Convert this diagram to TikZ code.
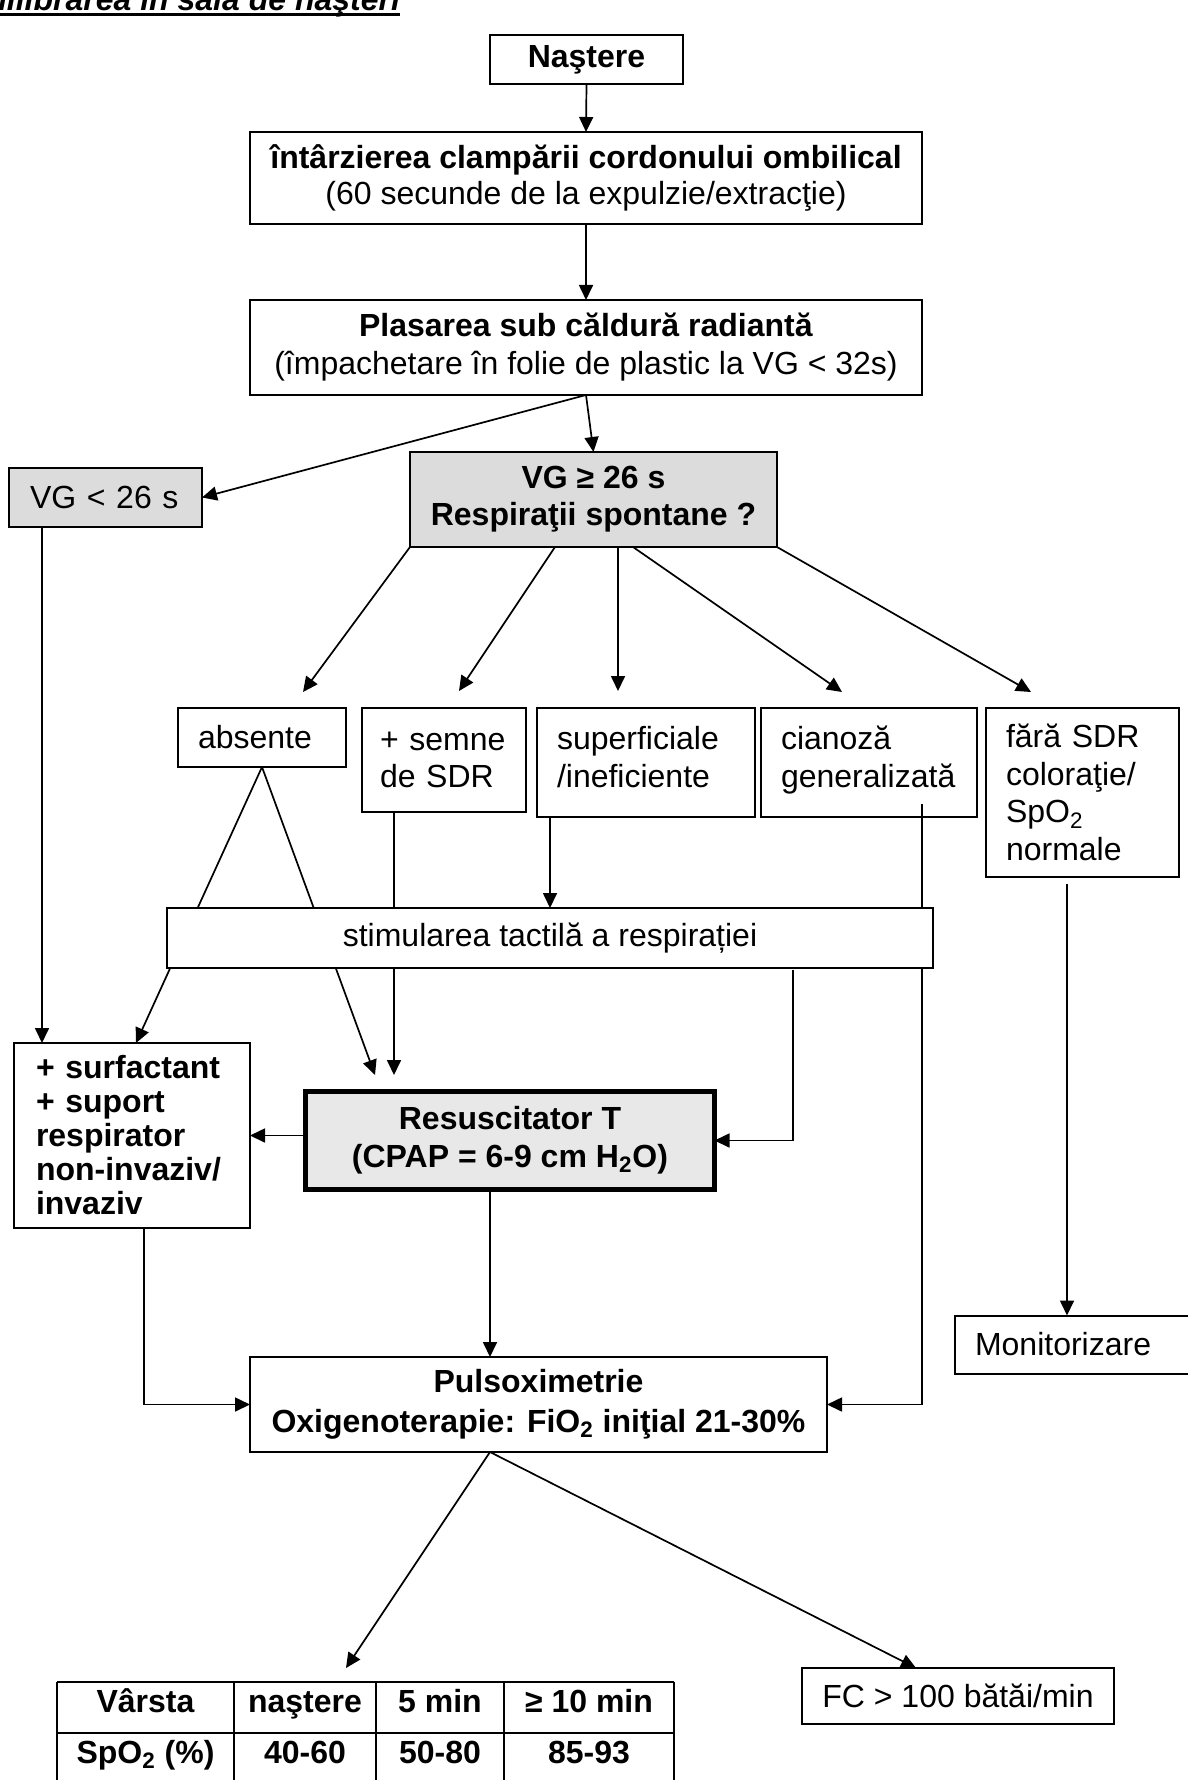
\documentclass[tikz,border=0pt]{standalone}
\usepackage{fontspec}
\setmainfont{Liberation Sans}
\usetikzlibrary{arrows.meta}
\pgfdeclarelayer{bg}
\pgfsetlayers{bg,main}
\definecolor{vggrey}{RGB}{220,220,220}
\definecolor{resgrey}{RGB}{232,232,232}
\newcommand{\fsz}[1]{\fontsize{16}{#1}\selectfont}
\begin{document}
\begin{tikzpicture}[x=0.5pt,y=-0.5pt,
  every node/.style={inner sep=0pt, outer sep=0pt, font=\fsz{18.75}},
  box/.style={draw, line width=1pt, align=center},
  lbox/.style={draw, line width=1pt, align=left, inner xsep=10pt},
  conn/.style={line width=0.85pt},
  arr/.style={conn, -{Triangle[length=7.5pt,width=7pt]}},
  tcell/.style={anchor=base, font=\fsz{18}\bfseries},
]
\useasboundingbox (0,0) rectangle (1187,1780);

% title (cut by the top and left edges)
\begin{scope}
\clip (0,0) rectangle (1187,1780);
\node[anchor=base east, font=\fsz{19}\bfseries\itshape] (title) at (400,11) {Echilibrarea în sala de naşteri};
\draw[line width=1.5pt] ([yshift=-2pt]title.base west) -- ([yshift=-2pt]title.base east);
\end{scope}

% boxes
\node[box, font=\fsz{18.75}\bfseries, minimum width=96.5pt, minimum height=24.5pt] (nastere) at (586.5,59.5) {Naştere};
\node[box, font=\fsz{18}, minimum width=336pt, minimum height=46pt] (clamp) at (586,178) {\textbf{întârzierea clampării cordonului ombilical}\\(60 secunde de la expulzie/extracţie)};
\node[box, font=\fsz{19}, minimum width=336pt, minimum height=47.5pt] (plasare) at (586,347.5) {\textbf{Plasarea sub căldură radiantă}\\(împachetare în folie de plastic la VG < 32s)};
\node[lbox, fill=vggrey, inner xsep=10.5pt, text width=75.5pt, minimum height=29.5pt] (vglow) at (105.5,497.5) {VG < 26 s};
\node[box, fill=vggrey, font=\fsz{18.5}\bfseries, minimum width=183.5pt, minimum height=47.5pt] (vghigh) at (593.5,499.5) {VG ≥ 26 s\\Respiraţii spontane ?};

\node[lbox, text width=64pt, minimum height=29.5pt] (absente) at (262,737.5) {absente};
\node[lbox, inner xsep=9pt, text width=64pt, minimum height=52pt] (semne) at (444,760) {+ semne\\de SDR};
\node[lbox, text width=89pt, minimum height=54.5pt] (superf) at (646,762.5) {superficiale\\/ineficiente\\[-13pt]\mbox{}};
\node[lbox, text width=88pt, minimum height=54.5pt] (cianoza) at (869,762.5) {cianoză\\generalizată\\[-13pt]\mbox{}};
\node[lbox, text width=76.5pt, minimum height=84.5pt] (fara) at (1082.5,792.5) {fără SDR\\coloraţie/\\SpO\textsubscript{2}\\normale};

\node[box, fill=white, minimum width=383pt, minimum height=30pt] (stim) at (550,938) {stimularea tactilă a respirației};
\node[lbox, font=\fsz{17}\bfseries, inner xsep=11pt, text width=96pt, minimum height=92.5pt] (surf) at (132,1135.5) {+ surfactant\\+ suport\\respirator\\non-invaziv/\\invaziv};
\node[box, line width=2.5pt, fill=resgrey, font=\fsz{19}\bfseries, minimum width=204.5pt, minimum height=49pt] (resus) at (510,1140.5) {Resuscitator T\\(CPAP = 6-9 cm H\textsubscript{2}O)};
\node[lbox, inner xsep=10pt, text width=100pt, minimum height=29pt] (monit) at (1075,1344.5) {Monitorizare};
\node[box, font=\fsz{20}\bfseries, minimum width=288.5pt, minimum height=47.5pt] (pulso) at (538.5,1404.5) {Pulsoximetrie\\Oxigenoterapie: FiO\textsubscript{2} iniţial 21-30\%};
\node[box, minimum width=156pt, minimum height=28pt] (fc) at (958,1696) {FC > 100 bătăi/min};

% table (cut by the bottom edge)
\draw[line width=1.3pt] (57,1682) -- (674,1682);
\draw[line width=1.3pt] (57,1733) -- (674,1733);
\draw[line width=1pt] (57,1682) -- (57,1795);
\draw[line width=0.75pt] (234,1682) -- (234,1795);
\draw[line width=0.75pt] (376,1682) -- (376,1795);
\draw[line width=0.75pt] (504,1682) -- (504,1795);
\draw[line width=1pt] (674,1682) -- (674,1795);
\node[tcell] (tA1) at (145.5,1712) {Vârsta};
\node[tcell] (tB1) at (305,1712) {naştere};
\node[tcell] (tC1) at (440,1712) {5 min};
\node[tcell] (tD1) at (589,1712) {≥ 10 min};
\node[tcell] (tA2) at (145.5,1763.5) {SpO\textsubscript{2} (\%)};
\node[tcell] (tB2) at (305,1763.5) {40-60};
\node[tcell] (tC2) at (440,1763.5) {50-80};
\node[tcell] (tD2) at (589,1763.5) {85-93};

% connector end points
\coordinate (v2) at (555,547);
\coordinate (v3) at (618,547);
\coordinate (v4) at (633,547);
\coordinate (r1) at (303,692);
\coordinate (r2) at (459,691);
\coordinate (r3) at (618,691);
\coordinate (r4) at (842,692);
\coordinate (r5) at (1031,692);
\coordinate (sfA) at (136,1043);
\coordinate (rsA) at (375,1075);
\coordinate (sdS) at (394,812);
\coordinate (czS) at (922,804);
\coordinate (faS) at (1067,884);
\coordinate (vgS) at (42,527);
\coordinate (stS) at (793,970);
\coordinate (rS) at (490,1192);
\coordinate (sfS) at (144,1228);
\coordinate (pS) at (490,1452);
\coordinate (tabIn) at (346,1668);
\coordinate (fcIn) at (916,1668);

\begin{pgfonlayer}{bg}
\fill[white] (0,0) rectangle (1187,1780);
\draw[arr] (nastere.south) -- (clamp.north);
\draw[arr] (clamp.south) -- (plasare.north);
\draw[arr] (plasare.south) -- (vglow.east);
\draw[arr] (plasare.south) -- (vghigh.north);
\draw[arr] (vghigh.south west) -- (r1);
\draw[arr] (v2) -- (r2);
\draw[arr] (v3) -- (r3);
\draw[arr] (v4) -- (r4);
\draw[arr] (vghigh.south east) -- (r5);
\draw[arr] (absente.south) -- (sfA);
\draw[arr] (absente.south) -- (rsA);
\draw[arr] (sdS) -- (sdS |- rsA);
\draw[arr] (stim.north |- superf.south) -- (stim.north);
\draw[arr] (czS) |- (pulso.east);
\draw[arr] (faS) -- (faS |- monit.north);
\draw[arr] (vgS) -- (vgS |- surf.north);
\draw[arr] (stS) |- (resus.east);
\draw[arr] (resus.west |- surf.east) -- (surf.east);
\draw[arr] (rS) -- (rS |- pulso.north);
\draw[arr] (sfS) |- (pulso.west);
\draw[arr] (pS) -- (tabIn);
\draw[arr] (pS) -- (fcIn);
\end{pgfonlayer}
\end{tikzpicture}
\end{document}
